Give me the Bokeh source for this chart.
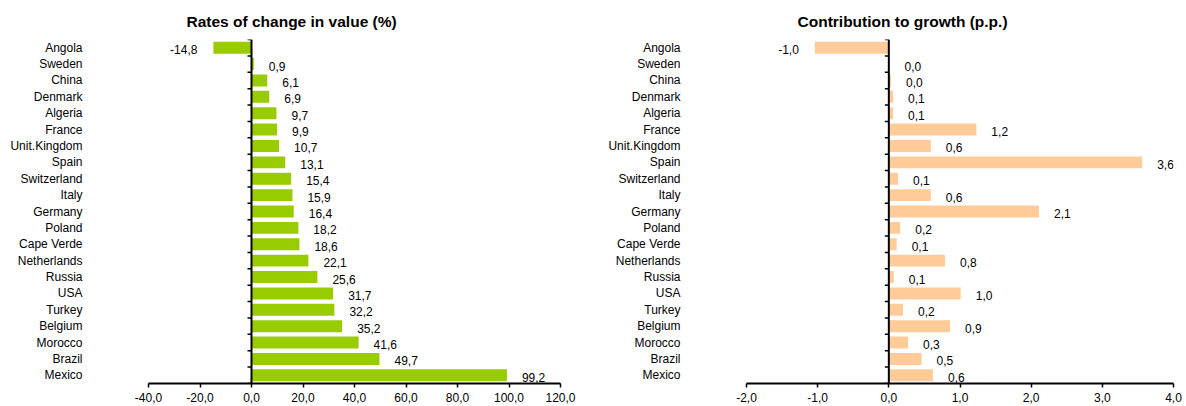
from bokeh.plotting import figure
from bokeh.layouts import row
from bokeh.models import Range1d, FixedTicker, Span, ColumnDataSource, Title
from bokeh.core.properties import value
from bokeh.embed import file_html
from bokeh.resources import INLINE

countries = ["Angola", "Sweden", "China", "Denmark", "Algeria", "France",
             "Unit.Kingdom", "Spain", "Switzerland", "Italy", "Germany",
             "Poland", "Cape Verde", "Netherlands", "Russia", "USA", "Turkey",
             "Belgium", "Morocco", "Brazil", "Mexico"]
rates = [-14.8, 0.9, 6.1, 6.9, 9.7, 9.9, 10.7, 13.1, 15.4, 15.9, 16.4,
         18.2, 18.6, 22.1, 25.6, 31.7, 32.2, 35.2, 41.6, 49.7, 99.2]
contrib = [-1.04, 0.01, 0.03, 0.06, 0.06, 1.23, 0.59, 3.56, 0.13, 0.59, 2.11,
           0.16, 0.11, 0.79, 0.07, 1.01, 0.20, 0.86, 0.27, 0.46, 0.62]
rate_ticks = [-40, -20, 0, 20, 40, 60, 80, 100, 120]
contrib_ticks = [-2, -1, 0, 1, 2, 3, 4]

FONT = "Liberation Sans"


def fmt(v):
    return f"{v:.1f}".replace(".", ",")


def make(values, ticks, color, title, width, bl, br, toff):
    n = len(countries)
    idx = list(range(n))
    p = figure(width=width, height=406,
               x_range=Range1d(ticks[0], ticks[-1]),
               y_range=Range1d(n - 0.5, -0.5),
               output_backend="svg", toolbar_location=None,
               min_border_left=bl, min_border_right=br,
               min_border_top=39, min_border_bottom=23)
    p.title = Title(text=title, align="left", offset=toff,
                    text_font=FONT, text_font_size="15.5px",
                    text_font_style="bold", text_color="black", standoff=19)
    p.outline_line_color = None
    p.background_fill_color = "white"
    p.border_fill_color = "white"
    p.grid.visible = False

    src = ColumnDataSource(dict(
        y=idx, v=values, lab=[fmt(v) for v in values],
        xo=[15 if v >= 0 else -16 for v in values],
        al=["left" if v >= 0 else "right" for v in values]))
    p.hbar(y="y", left=0, right="v", height=0.73, fill_color=color,
           line_color=None, source=src)
    p.text(x="v", y="y", text="lab", x_offset="xo", y_offset=2,
           text_align="al", text_baseline="middle", text_font=value(FONT),
           text_font_size="12px", text_color="black", source=src)

    p.add_layout(Span(location=0, dimension="height", line_color="black",
                      line_width=2))
    bounds = [i - 0.5 for i in range(n + 1)]
    p.ray(x=0, y=bounds, length=4, length_units="screen", angle=3.14159265,
          line_color="black", line_width=1.5)

    ya = p.yaxis[0]
    ya.ticker = FixedTicker(ticks=idx)
    ya.major_label_overrides = {i: c for i, c in zip(idx, countries)}
    ya.axis_line_color = None
    ya.major_tick_line_color = None
    ya.minor_tick_line_color = None
    ya.major_label_standoff = 60
    ya.major_label_text_font = FONT
    ya.major_label_text_font_size = "12px"
    ya.major_label_text_color = "black"

    xa = p.xaxis[0]
    xa.ticker = FixedTicker(ticks=ticks)
    xa.major_label_overrides = {t: fmt(t) for t in ticks}
    xa.axis_line_color = "black"
    xa.axis_line_width = 2
    xa.major_tick_line_color = "black"
    xa.major_tick_line_width = 1.5
    xa.major_tick_out = 4
    xa.major_tick_in = 0
    xa.minor_tick_line_color = None
    xa.major_label_standoff = 5
    xa.major_label_text_font = FONT
    xa.major_label_text_font_size = "12px"
    xa.major_label_text_color = "black"
    return p


p1 = make(rates, rate_ticks, "#99CC00", "Rates of change in value (%)",
          590, 148, 30, 38)
p2 = make(contrib, contrib_ticks, "#FFCC99", "Contribution to growth (p.p.)",
          596, 156, 13, 51)

layout = row(p1, p2)
open("out.html", "w").write(file_html(layout, INLINE))
